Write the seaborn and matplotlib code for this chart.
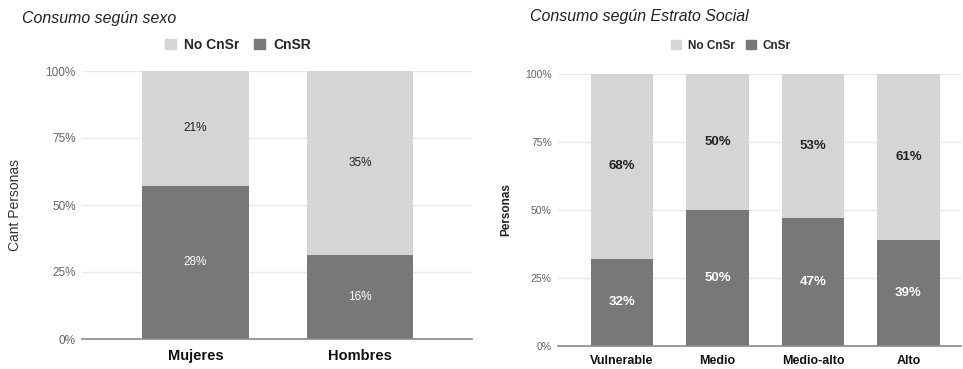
import matplotlib
matplotlib.use("Agg")
import matplotlib.pyplot as plt
from matplotlib.patches import Patch
from matplotlib.ticker import PercentFormatter
import seaborn as sns
import pandas as pd

sns.set_theme(style="white")
plt.rcParams["font.family"] = ["Liberation Sans", "DejaVu Sans"]

# Consumption by sex (share of respondents, %)
sexo_cats = ["Mujeres", "Hombres"]
sexo_cnsr = [28, 16]
sexo_no = [21, 35]

# Consumption by social stratum (%)
estrato_cats = ["Vulnerable", "Medio", "Medio-alto", "Alto"]
estrato_cnsr = [32, 50, 47, 39]
estrato_no = [68, 50, 53, 61]

LIGHT = "#d5d5d5"
DARK = "#787878"
W, H = 963, 369

fig = plt.figure(figsize=(W / 100, H / 100), dpi=100)


def px_axes(x0, x1, ytop, ybot):
    return fig.add_axes([x0 / W, (H - ybot) / H, (x1 - x0) / W, (ybot - ytop) / H])


def stacked(ax, cats, cnsr, no, width, label_size, bold, xlim,
            ytick_size, xtick_size, xpad):
    df = pd.DataFrame({"cat": cats, "cnsr": cnsr, "no": no})
    df["total"] = 1.0
    df["share"] = df["cnsr"] / (df["cnsr"] + df["no"])
    sns.barplot(data=df, x="cat", y="total", color=LIGHT, saturation=1,
                width=width, linewidth=0, ax=ax, zorder=2)
    sns.barplot(data=df, x="cat", y="share", color=DARK, saturation=1,
                width=width, linewidth=0, ax=ax, zorder=3)
    weight = "bold" if bold else "normal"
    for i, row in df.iterrows():
        ax.text(i, row["share"] / 2, f"{row['cnsr']}%", ha="center", va="center",
                color="white", fontsize=label_size, fontweight=weight, zorder=4)
        ax.text(i, (1 + row["share"]) / 2, f"{row['no']}%", ha="center", va="center",
                color="#222222", fontsize=label_size, fontweight=weight, zorder=4)
    ax.set_ylim(0, 1)
    ax.set_xlim(*xlim)
    ax.set_yticks([0, 0.25, 0.5, 0.75, 1.0])
    ax.yaxis.set_major_formatter(PercentFormatter(1.0, decimals=0))
    ax.grid(axis="y", color="#e8e8e8", linewidth=1, zorder=0)
    ax.set_axisbelow(True)
    for s in ["top", "right", "left"]:
        ax.spines[s].set_visible(False)
    ax.spines["bottom"].set_color("#8a8a8a")
    ax.spines["bottom"].set_linewidth(1.2)
    ax.spines["bottom"].set_zorder(5)
    ax.tick_params(axis="y", length=0, labelsize=ytick_size, labelcolor="#666666", pad=4.5)
    ax.tick_params(axis="x", length=0, labelsize=xtick_size, labelcolor="#111111", pad=xpad)
    for t in ax.get_xticklabels():
        t.set_fontweight("bold")
    ax.set_xlabel("")
    ax.set_ylabel("")


# Left panel
ax1 = px_axes(82, 472, 71, 339)
stacked(ax1, sexo_cats, sexo_cnsr, sexo_no, 0.645, 8.5, False, (-0.69, 1.68),
        8.5, 10.5, 7)
fig.text(15 / W, (H - 205) / H, "Cant Personas", rotation=90, ha="center",
         va="center", fontsize=10, color="#333333")
fig.text(22 / W, (H - 18) / H, "Consumo según sexo", ha="left", va="center",
         fontsize=11.4, style="italic", color="#222222")
fig.legend(handles=[Patch(color=LIGHT, label="No CnSr"), Patch(color=DARK, label="CnSR")],
           loc="center", bbox_to_anchor=(238 / W, (H - 45) / H), ncol=2,
           frameon=False, handlelength=0.8, handleheight=0.8, handletextpad=0.6,
           columnspacing=1.0, prop={"size": 10, "weight": "bold"})

# Right panel
ax2 = px_axes(558, 961, 74, 346)
stacked(ax2, estrato_cats, estrato_cnsr, estrato_no, 0.65, 9.5, True, (-0.67, 3.55),
        7.5, 9, 6.5)
fig.text(506 / W, (H - 210) / H, "Personas", rotation=90, ha="center",
         va="center", fontsize=8.5, fontweight="bold", color="#222222")
fig.text(530 / W, (H - 16) / H, "Consumo según Estrato Social", ha="left", va="center",
         fontsize=11.4, style="italic", color="#222222")
fig.legend(handles=[Patch(color=LIGHT, label="No CnSr"), Patch(color=DARK, label="CnSr")],
           loc="center", bbox_to_anchor=(731 / W, (H - 46) / H), ncol=2,
           frameon=False, handlelength=0.8, handleheight=0.8, handletextpad=0.6,
           columnspacing=1.0, prop={"size": 8.5, "weight": "bold"})

fig.savefig("out.png", dpi=100)
